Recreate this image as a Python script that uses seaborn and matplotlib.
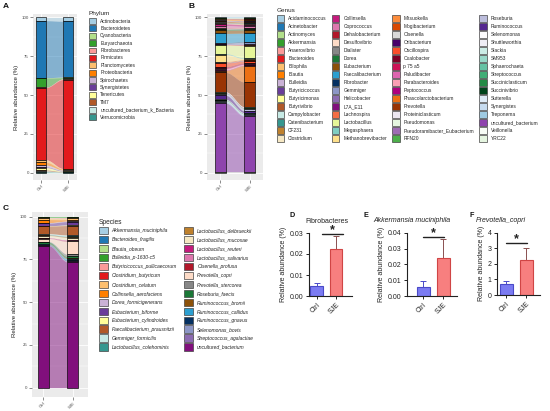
import numpy as np
import pandas as pd
import seaborn as sns
import matplotlib.pyplot as plt
from matplotlib.patches import Patch
from matplotlib.ticker import MultipleLocator

# ---------------- data ----------------
groups = ["Ctrl", "SJE"]

phylum_names = ["Actinobacteria", "Bacteroidetes", "Cyanobacteria", "Euryarchaeota",
                "Fibrobacteres", "Firmicutes", "Planctomycetes", "Proteobacteria",
                "Spirochaetes", "Synergistetes", "Tenericutes", "TM7",
                "uncultured_bacterium_k_Bacteria", "Verrucomicrobia"]
phylum_ctrl = [2.1, 36.7, 0.2, 6.0, 0.2, 46.5, 1.6, 1.8, 1.2, 0.4, 1.6, 0.6, 0.6, 0.5]
phylum_sje = [2.5, 36.0, 0.3, 0.8, 0.4, 57.3, 0.4, 0.6, 0.5, 0.3, 0.3, 0.2, 0.2, 0.2]

genus_names = ["Acidaminococcus", "Acinetobacter", "Actinomyces", "Akkermansia", "Anaerovibrio",
               "Bacteroides", "Bilophila", "Blautia", "Bulleidia", "Butyricicoccus",
               "Butyricimonas", "Butyrivibrio", "Campylobacter", "Catenibacterium", "CF231",
               "Clostridium",
               "Collinsella", "Coprococcus", "Dehalobacterium", "Desulfovibrio", "Dialister",
               "Dorea", "Eubacterium", "Faecalibacterium", "Fibrobacter", "Gemmiger",
               "Helicobacter", "L7A_E11", "Lachnospira", "Lactobacillus", "Megasphaera",
               "Methanobrevibacter",
               "Mitsuokella", "Mogibacterium", "Olsenella", "Oribacterium", "Oscillospira",
               "Oxalobacter", "p 75 a5", "Paludibacter", "Parabacteroides", "Peptococcus",
               "Phascolarctobacterium", "Prevotella", "Proteiniclasticum", "Pseudomonas",
               "Pseudoramibacter_Eubacterium", "RFN20",
               "Roseburia", "Ruminococcus", "Selenomonas", "Shuttleworthia", "Slackia", "SM953",
               "Sphaerochaeta", "Streptococcus", "Succiniclasticum", "Succinivibrio",
               "Sutterella", "Synergistes", "Treponema", "uncultured_bacterium", "Veillonella",
               "YRC22"]
genus_ctrl = [0.3, 0.2, 0.1, 0.2, 0.2, 0.3, 0.2, 0.4, 0.2, 0.3, 0.2, 0.6, 0.1, 0.2, 0.3, 0.3,
              1.2, 1.4, 0.3, 0.3, 0.4, 0.6, 2.0, 6.0, 0.3, 0.5, 0.2, 0.2, 0.3, 5.5, 0.6, 4.5,
              0.3, 0.3, 0.2, 0.2, 2.5, 0.4, 0.6, 0.4, 0.6, 0.3, 1.2, 12.5, 0.3, 0.2, 0.4, 0.2,
              1.2, 2.6, 0.1, 0.1, 0.1, 0.1, 0.1, 0.1, 0.1, 0.1, 0.3, 0.3, 1.0, 44.4, 0.2, 0.2]
genus_sje = [0.3, 0.2, 0.1, 0.3, 0.2, 0.3, 0.2, 0.6, 0.2, 0.3, 0.2, 0.8, 0.1, 0.2, 0.4, 0.3,
             1.0, 0.8, 0.3, 0.3, 0.5, 0.6, 2.0, 5.5, 0.3, 1.3, 0.3, 0.2, 0.3, 8.0, 0.5, 0.6,
             0.3, 0.3, 0.2, 0.2, 1.2, 0.3, 0.5, 0.3, 0.4, 0.2, 10.5, 16.0, 0.3, 0.2, 0.4, 0.2,
             1.5, 1.2, 0.1, 0.1, 0.1, 0.1, 0.1, 0.1, 0.1, 0.1, 0.3, 0.3, 0.8, 36.0, 0.2, 0.2]

species_names = ["Akkermansia_muciniphila", "Bacteroides_fragilis", "Blautia_obeum",
                 "Bulleidia_p-1630-c5", "Butyricicoccus_pullicaecorum", "Clostridium_butyricum",
                 "Clostridium_celatum", "Collinsella_aerofaciens", "Dorea_formicigenerans",
                 "Eubacterium_biforme", "Eubacterium_cylindroides", "Faecalibacterium_prausnitzii",
                 "Gemmiger_formicilis", "Lactobacillus_colehominis",
                 "Lactobacillus_delbrueckii", "Lactobacillus_mucosae", "Lactobacillus_reuteri",
                 "Lactobacillus_salivarius", "Olsenella_profusa", "Prevotella_copri",
                 "Prevotella_stercorea", "Roseburia_faecis", "Ruminococcus_bromii",
                 "Ruminococcus_callidus", "Ruminococcus_gnavus", "Selenomonas_bovis",
                 "Streptococcus_agalactiae", "uncultured_bacterium"]
species_ctrl = [0.1, 0.1, 0.2, 0.2, 0.2, 0.1, 0.8, 1.8, 0.3, 1.5, 0.2, 4.5, 0.5, 0.3,
                0.3, 1.2, 0.2, 0.2, 0.1, 1.8, 0.3, 1.0, 0.3, 0.3, 0.2, 0.1, 0.2, 83.0]
species_sje = [0.1, 0.1, 0.2, 0.2, 0.2, 0.2, 0.8, 0.8, 0.3, 2.0, 0.3, 5.5, 0.8, 0.3,
               0.4, 1.5, 0.3, 0.3, 0.2, 7.5, 1.3, 0.8, 0.5, 1.0, 0.3, 0.2, 0.4, 73.5]

fib_mean = [0.0046, 0.0225]
fib_err = [0.0016, 0.0059]
akk_mean = [0.0059, 0.0242]
akk_err = [0.0038, 0.0118]
pcopri_mean = [0.71, 2.25]
pcopri_err = [0.21, 0.79]

# ---------------- style ----------------
palette = ['#a6cee3', '#1f78b4', '#b2df8a', '#33a02c', '#fb9a99', '#e31a1c', '#fdbf6f',
           '#ff7f00', '#cab2d6', '#6a3d9a', '#ffff99', '#b15928', '#c7eae5', '#35978f',
           '#bf812d', '#f6e8c3',
           '#c51b7d', '#de77ae', '#b2182b', '#fddbc7', '#878787', '#1b7837', '#8c510a',
           '#2c9fd0', '#053061', '#8c96c6', '#8c6bb1', '#810f7c', '#f46d43', '#e6f598',
           '#80cdc1', '#fee08b',
           '#fd8d3c', '#d94801', '#d9d9d9', '#49006a', '#fc4e2a', '#800026', '#ce1256',
           '#df65b0', '#fa9fb5', '#ae017e', '#ec7014', '#993404', '#ece7f2', '#e5f5e0',
           '#9e6db3', '#4daf4a',
           '#bcbddc', '#54278f', '#fcfbfd', '#efedf5', '#ccece6', '#99d8c9', '#66c2a4',
           '#41ae76', '#238b45', '#00441b', '#deebf7', '#c6dbef', '#9ecae1', '#8e44ad',
           '#f7fcf5', '#e5f5e0']
bar_fill = ['#7b7bf2', '#f77f7f']
bar_edge = ['#4a4ac8', '#d04545']

sns.set_theme(style="white")
plt.rcParams['font.family'] = ['Liberation Sans', 'DejaVu Sans']

W, H = 550, 411
fig = plt.figure(figsize=(5.5, 4.11), dpi=100)


def px_axes(x0, y0, x1, y1):
    return fig.add_axes([x0 / W, 1 - y1 / H, (x1 - x0) / W, (y1 - y0) / H])


def alluvial(ax, ctrl, sje, colors, xlim, ylim, w=0.37):
    ctrl = np.array(ctrl)
    sje = np.array(sje)
    n = len(ctrl)
    # first level sits on top, like ggplot
    bot_c = np.array([ctrl[i + 1:].sum() for i in range(n)])
    bot_s = np.array([sje[i + 1:].sum() for i in range(n)])
    ax.set_facecolor('#ebebeb')
    for sp in ax.spines.values():
        sp.set_visible(False)
    ax.set_yticks([0, 25, 50, 75, 100])
    ax.yaxis.set_minor_locator(MultipleLocator(12.5))
    ax.grid(True, which='major', color='white', lw=0.6, zorder=0)
    ax.grid(True, which='minor', axis='y', color='white', lw=0.3, zorder=0)
    ax.set_axisbelow(True)
    t = np.linspace(0, 1, 80)
    s = t * t * (3 - 2 * t)
    xs = w / 2 + t * (1 - w)
    for i in range(n):
        lo = bot_c[i] + (bot_s[i] - bot_c[i]) * s
        hi = lo + ctrl[i] + (sje[i] - ctrl[i]) * s
        ax.fill_between(xs, lo, hi, color=colors[i], alpha=0.5, lw=0, zorder=2)
    ax.bar(np.zeros(n), ctrl, bottom=bot_c, width=w, color=colors,
           edgecolor='black', lw=0.45, zorder=3)
    ax.bar(np.ones(n), sje, bottom=bot_s, width=w, color=colors,
           edgecolor='black', lw=0.45, zorder=3)
    ax.set_xlim(*xlim)
    ax.set_ylim(*ylim)
    ax.set_xticks([0, 1])
    ax.set_xticklabels(groups, rotation=45, ha='right', rotation_mode='anchor')
    ax.tick_params(axis='both', which='major', length=2, width=0.4, color='#333333',
                   labelsize=3.2, labelcolor='#4d4d4d', pad=1.2, left=True, bottom=True)
    ax.tick_params(axis='y', which='minor', length=0)
    ax.set_ylabel("Relative abundance (%)", fontsize=4.4, labelpad=2, color='#222222')


def key_handles(colors):
    return [Patch(facecolor=c, edgecolor='#444444', lw=0.5) for c in colors]


# ---------------- A ----------------
axA = px_axes(33.3, 14, 76.7, 180)
alluvial(axA, phylum_ctrl, phylum_sje, palette[:14], (-0.285, 1.32), (-4.7, 102.2))
fig.legend(key_handles(palette[:14]), phylum_names, loc='upper left',
           bbox_to_anchor=(88.5 / W, 1 - 11.5 / H), frameon=False, fontsize=3.5,
           title='Phylum', title_fontsize=4.6, handlelength=1.6, handleheight=1.5,
           labelspacing=0.3, handletextpad=0.8, borderpad=0, borderaxespad=0,
           alignment='left')

# ---------------- B ----------------
axB = px_axes(206.7, 14, 263.3, 180)
alluvial(axB, genus_ctrl, genus_sje, palette, (-0.45, 1.45), (-4.7, 102.2))
fig.legend(key_handles(palette), genus_names, loc='upper left', ncol=4,
           bbox_to_anchor=(276.5 / W, 1 - 8.5 / H), frameon=False, fontsize=3.5,
           title='Genus', title_fontsize=4.6, handlelength=1.6, handleheight=1.75,
           labelspacing=0.27, handletextpad=0.8, columnspacing=1.0, borderpad=0,
           borderaxespad=0, alignment='left')

# ---------------- C ----------------
axC = px_axes(31.7, 211.7, 88.3, 396.7)
alluvial(axC, species_ctrl, species_sje, palette[:28], (-0.39, 1.52), (-5.3, 102.9))
fig.legend(key_handles(palette[:28]), species_names, loc='upper left', ncol=2,
           bbox_to_anchor=(98.5 / W, 1 - 218.5 / H), frameon=False,
           prop={'size': 3.6, 'style': 'italic'},
           title='Species', title_fontsize=4.8, handlelength=1.8, handleheight=2.0,
           labelspacing=0.25, handletextpad=0.8, columnspacing=1.5, borderpad=0,
           borderaxespad=0, alignment='left')


# ---------------- D, E, F ----------------
def bar_panel(ax, means, errs, yticks, fmt, xlim, title, italic, title_x, sig_x, sig_y):
    df = pd.DataFrame({'group': groups, 'value': means})
    sns.barplot(data=df, x='group', y='value', hue='group', palette=bar_fill,
                saturation=1, width=0.65, legend=False, ax=ax, zorder=2)
    for p, ec in zip(ax.patches, bar_edge):
        p.set_edgecolor(ec)
        p.set_linewidth(0.8)
    for i in range(2):
        ax.errorbar(i, means[i], yerr=[[0], [errs[i]]], color=bar_edge[i] if i == 0 else '#8a5050',
                    lw=0.7, capsize=2.3, capthick=0.7, zorder=1)
    ax.set_facecolor('white')
    for side in ['top', 'right']:
        ax.spines[side].set_visible(False)
    for side in ['left', 'bottom']:
        ax.spines[side].set_color('#222222')
        ax.spines[side].set_linewidth(0.8)
    ax.set_xlim(*xlim)
    ax.set_ylim(yticks[0], yticks[-1])
    ax.set_yticks(yticks)
    ax.set_yticklabels([fmt.format(v) for v in yticks])
    ax.set_xticks([0, 1])
    ax.set_xticklabels(groups, rotation=45, ha='right', rotation_mode='anchor')
    ax.tick_params(axis='both', length=2.5, width=0.7, color='#222222', labelsize=5,
                   labelcolor='#222222', pad=1.5, left=True, bottom=True, direction='out')
    ax.set_xlabel('')
    ax.set_ylabel("Relative abundance (%)", fontsize=5, labelpad=2, color='#222222')
    ax.grid(False)
    ax.text(title_x, 1.19, title, transform=ax.transAxes, ha='center', va='center',
            fontsize=5, style='italic' if italic else 'normal', color='#222222')
    ax.plot(sig_x, [sig_y, sig_y], color='#222222', lw=1.0, clip_on=False)
    ax.annotate('*', xy=(np.mean(sig_x), sig_y), xytext=(0, -1.5), textcoords='offset points',
                ha='center', va='bottom', fontsize=9, fontweight='bold',
                color='#222222', annotation_clip=False)


axD = px_axes(309, 233, 352, 296)
bar_panel(axD, fib_mean, fib_err, [0, 0.01, 0.02, 0.03], '{:.2f}', (-0.385, 1.82),
          'Fibrobacteres', False, 0.41, [0.27, 1.35], 0.0297)

axE = px_axes(407.3, 232.7, 456.7, 296)
bar_panel(axE, akk_mean, akk_err, [0, 0.01, 0.02, 0.03, 0.04], '{:.2f}', (-0.8, 1.67),
          'Akkermansia muciniphila', True, 0.09, [0.0, 1.03], 0.0375)

axF = px_axes(497.3, 232.7, 540, 295)
bar_panel(axF, pcopri_mean, pcopri_err, [0, 1, 2, 3, 4], '{:d}', (-0.45, 1.69),
          'Prevotella_copri', True, 0.075, [0.0, 1.02], 3.36)

# panel letters
for lab, x, y, fs in [('A', 2.5, 3.5, 6), ('B', 188.5, 3.5, 6), ('C', 2.5, 205, 6),
                      ('D', 289, 211.5, 5.2), ('E', 364, 211.5, 5.2), ('F', 469.5, 211.5, 5.2)]:
    fig.text(x / W, 1 - y / H, lab, fontsize=fs, fontweight='bold', ha='left', va='top',
             color='#111111')

fig.savefig('out.png', dpi=100)
